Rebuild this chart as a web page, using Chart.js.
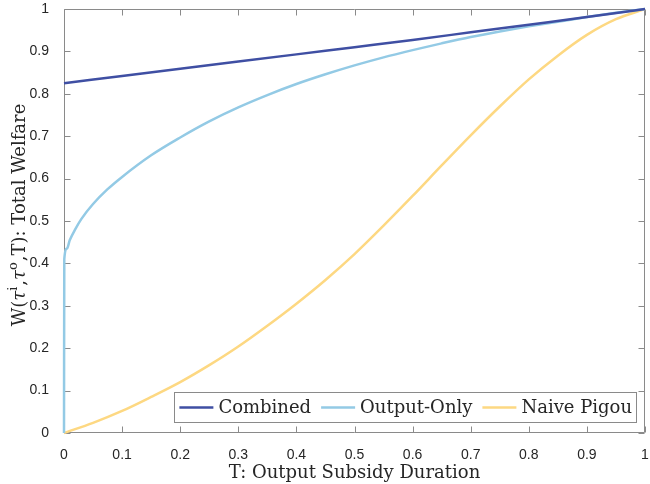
<!DOCTYPE html>
<html><head><meta charset="utf-8">
<script src="https://cdn.jsdelivr.net/npm/chart.js@4/dist/chart.umd.min.js"></script>
<style>html,body{margin:0;padding:0;background:#fff}#wrap{width:650px;height:484px}</style>
</head><body><div id="wrap"><canvas id="c" width="650" height="484"></canvas></div>
<script>
// ---- data ----
const seriesNames = ['Combined', 'Output-Only', 'Naive Pigou'];
const tCombined = [0, 0.1, 0.2, 0.3, 0.4, 0.5, 0.6, 0.7, 0.8, 0.9, 1];
const combined = [0.825, 0.842, 0.859, 0.876, 0.893, 0.910, 0.927, 0.945, 0.963, 0.981, 1.0];
const tOutput = [0, 0.0005, 0.005, 0.01, 0.02, 0.03, 0.05, 0.075, 0.1, 0.15, 0.2, 0.25, 0.3, 0.35, 0.4, 0.45, 0.5, 0.55, 0.6, 0.65, 0.7, 0.75, 0.8, 0.85, 0.9, 0.95, 1];
const outputOnly = [0, 0.41, 0.435, 0.455, 0.482, 0.505, 0.54, 0.575, 0.604, 0.655, 0.697, 0.735, 0.768, 0.797, 0.823, 0.846, 0.867, 0.886, 0.903, 0.919, 0.934, 0.947, 0.959, 0.970, 0.981, 0.991, 1.0];
const tPigou = [0, 0.05, 0.1, 0.15, 0.2, 0.25, 0.3, 0.35, 0.4, 0.45, 0.5, 0.55, 0.6, 0.65, 0.7, 0.75, 0.8, 0.85, 0.9, 0.95, 1];
const naivePigou = [0, 0.024, 0.052, 0.085, 0.12, 0.16, 0.204, 0.253, 0.305, 0.361, 0.422, 0.489, 0.559, 0.631, 0.702, 0.770, 0.834, 0.890, 0.939, 0.976, 1.0];
const xTickValues = [0, 0.1, 0.2, 0.3, 0.4, 0.5, 0.6, 0.7, 0.8, 0.9, 1];
const xTickLabels = ['0', '0.1', '0.2', '0.3', '0.4', '0.5', '0.6', '0.7', '0.8', '0.9', '1'];
const yTickValues = [0, 0.1, 0.2, 0.3, 0.4, 0.5, 0.6, 0.7, 0.8, 0.9, 1];
const yTickLabels = ['0', '0.1', '0.2', '0.3', '0.4', '0.5', '0.6', '0.7', '0.8', '0.9', '1'];
const xTitle = 'T: Output Subsidy Duration';
// y title pieces: [text, kind] where kind: 'n' normal, 'g' greek, 's' superscript
const yTitleParts = [['W(', 'n'], ['\u03C4', 'g'], ['i', 's'], [',', 'n'], ['\u03C4', 'g'], ['o', 's'], [',T): Total Welfare', 'n']];

const colors = ['#3F4FA3', '#93CAE5', '#FDD882'];
const toPts = (xs, ys) => xs.map((x, i) => ({x: x, y: ys[i]}));

const AXIS_COLOR = '#8a8a8a';
const TEXT_COLOR = '#262626';
const SERIF = '"DejaVu Serif", serif';

const framePlugin = {
  id: 'frame',
  beforeDatasetsDraw(chart) {
    const ctx = chart.ctx, ca = chart.chartArea;
    const xs = chart.scales.x, ys = chart.scales.y;
    ctx.save();
    ctx.strokeStyle = AXIS_COLOR;
    ctx.lineWidth = 1;
    const L = Math.round(ca.left) + 0.5, R = Math.round(ca.right) - 0.5;
    const T = Math.round(ca.top) + 0.5, B = Math.round(ca.bottom) - 0.5;
    ctx.beginPath();
    ctx.rect(L, T, R - L, B - T);
    const tl = 6;
    xTickValues.forEach(v => {
      const px = Math.round(xs.getPixelForValue(v)) + 0.5;
      ctx.moveTo(px, B); ctx.lineTo(px, B - tl);
      ctx.moveTo(px, T); ctx.lineTo(px, T + tl);
    });
    yTickValues.forEach(v => {
      const py = Math.round(ys.getPixelForValue(v)) + 0.5;
      ctx.moveTo(L, py); ctx.lineTo(L + tl, py);
      ctx.moveTo(R, py); ctx.lineTo(R - tl, py);
    });
    ctx.stroke();

    // y-axis title with superscripts
    const fonts = {n: '18px ' + SERIF, g: 'italic 18px ' + SERIF, s: '13px ' + SERIF};
    const dys = {n: 0, g: 0, s: -8};
    let tw = 0;
    const ws = yTitleParts.map(p => { ctx.font = fonts[p[1]]; const w = ctx.measureText(p[0]).width; tw += w; return w; });
    ctx.translate(25, (ca.top + ca.bottom) / 2 - 5);
    ctx.rotate(-Math.PI / 2);
    ctx.fillStyle = TEXT_COLOR;
    ctx.textBaseline = 'alphabetic';
    ctx.textAlign = 'left';
    let x = -tw / 2;
    yTitleParts.forEach((p, i) => {
      ctx.font = fonts[p[1]];
      ctx.fillText(p[0], x, dys[p[1]]);
      x += ws[i] + (p[1] === 's' ? 1 : 0);
    });
    ctx.restore();
  },
  afterDraw(chart) {
    const ctx = chart.ctx, ca = chart.chartArea;
    ctx.save();
    // legend inside the plot
    ctx.font = '18px ' + SERIF;
    const lineLen = 34, gap1 = 5, gap2 = 10, padL = 5, padR = 5, h = 31;
    const widths = seriesNames.map(n => ctx.measureText(n).width);
    let total = padL + padR;
    widths.forEach((w, i) => { total += lineLen + gap1 + w + (i ? gap2 : 0); });
    const right = Math.round(ca.right) - 8;
    const bottom = Math.round(ca.bottom) - 10;
    const left = right - total, top = bottom - h;
    ctx.fillStyle = '#fff';
    ctx.fillRect(left, top, total, h);
    ctx.strokeStyle = AXIS_COLOR;
    ctx.lineWidth = 1;
    ctx.strokeRect(Math.round(left) + 0.5, top + 0.5, Math.round(total) - 1, h - 1);
    let x = left + padL;
    const cy = top + h / 2;
    seriesNames.forEach((n, i) => {
      if (i) x += gap2;
      ctx.strokeStyle = colors[i];
      ctx.lineWidth = 2.5;
      ctx.beginPath(); ctx.moveTo(x, cy); ctx.lineTo(x + lineLen, cy); ctx.stroke();
      x += lineLen + gap1;
      ctx.fillStyle = TEXT_COLOR;
      ctx.textBaseline = 'middle';
      ctx.textAlign = 'left';
      ctx.fillText(n, x, cy + 1);
      x += widths[i];
    });
    ctx.restore();
  }
};

new Chart(document.getElementById('c'), {
  type: 'line',
  data: {
    datasets: [
      {label: seriesNames[0], data: toPts(tCombined, combined), borderColor: colors[0]},
      {label: seriesNames[1], data: toPts(tOutput, outputOnly), borderColor: colors[1]},
      {label: seriesNames[2], data: toPts(tPigou, naivePigou), borderColor: colors[2]}
    ].map(d => Object.assign(d, {borderWidth: 2.5, pointRadius: 0, fill: false, clip: 4, cubicInterpolationMode: 'monotone'}))
  },
  options: {
    responsive: false,
    animation: false,
    devicePixelRatio: 1,
    layout: {padding: {top: 9, right: 5, left: 0, bottom: 0}},
    plugins: {legend: {display: false}, tooltip: {enabled: false}},
    scales: {
      x: {
        type: 'linear', min: 0, max: 1, position: 'bottom',
        grid: {display: false}, border: {display: false},
        afterBuildTicks: s => { s.ticks = xTickValues.map(v => ({value: v})); },
        ticks: {
          callback: (v) => xTickLabels[xTickValues.indexOf(v)],
          font: {family: '"Liberation Sans", Arial, sans-serif', size: 14},
          color: TEXT_COLOR, padding: 6, maxRotation: 0, autoSkip: false
        },
        title: {display: true, text: xTitle, font: {family: SERIF, size: 18}, color: TEXT_COLOR, padding: {top: 0, bottom: 0}},
        afterFit: s => { s.height = 51; s.paddingLeft = 0; s.paddingRight = 0; }
      },
      y: {
        type: 'linear', min: 0, max: 1, position: 'left',
        grid: {display: false}, border: {display: false},
        afterBuildTicks: s => { s.ticks = yTickValues.map(v => ({value: v})); },
        ticks: {
          callback: (v) => yTickLabels[yTickValues.indexOf(v)],
          font: {family: '"Liberation Sans", Arial, sans-serif', size: 14},
          color: TEXT_COLOR, padding: 7, autoSkip: false
        },
        title: {display: false},
        afterFit: s => { s.width = 64; s.paddingTop = 0; s.paddingBottom = 0; }
      }
    }
  },
  plugins: [framePlugin]
});
</script></body></html>
